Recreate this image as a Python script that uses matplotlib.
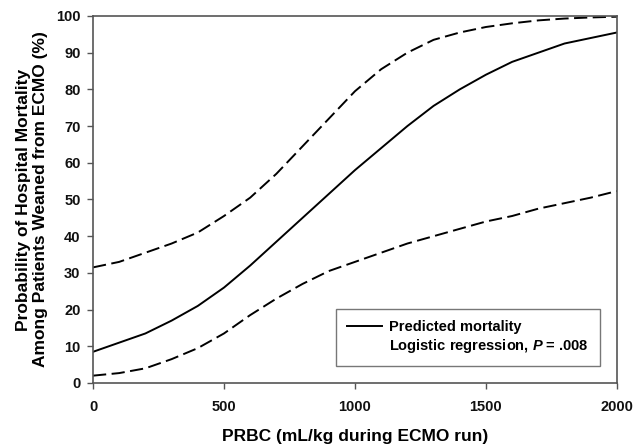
import matplotlib
matplotlib.use("Agg")
import matplotlib.pyplot as plt
from matplotlib.lines import Line2D

plt.rcParams['font.family'] = ['Liberation Sans', 'DejaVu Sans']
plt.rcParams['font.weight'] = 'bold'
plt.rcParams['mathtext.fontset'] = 'custom'
plt.rcParams['mathtext.it'] = 'Liberation Sans:bold:italic'
plt.rcParams['mathtext.rm'] = 'Liberation Sans:bold'

prbc = [0, 100, 200, 300, 400, 500, 600, 700, 800, 900, 1000,
        1100, 1200, 1300, 1400, 1500, 1600, 1700, 1800, 1900, 2000]
predicted = [8.5, 11, 13.5, 17, 21, 26, 32, 38.5, 45, 51.5, 58,
             64, 70, 75.5, 80, 84, 87.5, 90, 92.5, 94, 95.5]
upper_ci = [31.5, 33, 35.5, 38, 41, 45.5, 50.5, 57, 64.5, 72, 79.5,
            85.5, 90, 93.5, 95.5, 97, 98, 98.8, 99.3, 99.6, 99.8]
lower_ci = [2, 2.7, 4, 6.5, 9.5, 13.5, 18.5, 23, 27, 30.5, 33,
            35.5, 38, 40, 42, 44, 45.5, 47.5, 49, 50.5, 52.3]

x_ticks = [0, 500, 1000, 1500, 2000]
y_ticks = list(range(0, 101, 10))

fig = plt.figure(figsize=(6.35, 4.44), dpi=100)
ax = fig.add_axes([0.1465, 0.1374, 0.825, 0.8266])

ax.plot(prbc, predicted, color='black', lw=1.4)
ax.plot(prbc, upper_ci, color='black', lw=1.4, dashes=(6.8, 2.8))
ax.plot(prbc, lower_ci, color='black', lw=1.4, dashes=(6.8, 2.8))

ax.set_xlim(0, 2000)
ax.set_ylim(0, 100)
ax.set_xticks(x_ticks)
ax.set_yticks(y_ticks)
ax.tick_params(direction='out', length=4, width=1, color='#555555',
               labelsize=10.5, pad=5)
ax.tick_params(axis='x', pad=8)
for lab in ax.get_xticklabels() + ax.get_yticklabels():
    lab.set_fontweight('bold')
    lab.set_color('#111111')
for s in ax.spines.values():
    s.set_color('#555555')
    s.set_linewidth(1.2)

ax.set_xlabel('PRBC (mL/kg during ECMO run)', fontsize=12.5,
              fontweight='bold', labelpad=11)
ax.set_ylabel('Probability of Hospital Mortality\nAmong Patients Weaned from ECMO (%)',
              fontsize=12.5, fontweight='bold', labelpad=6, linespacing=1.12)

handles = [Line2D([], [], color='black', lw=1.4),
           Line2D([], [], color='none', lw=0)]
labels = ['Predicted mortality', r'Logistic regression, $P$ = .008']
leg = ax.legend(handles, labels, loc='lower right',
                bbox_to_anchor=(0.9676, 0.046), frameon=True, fancybox=False,
                edgecolor='#555555', fontsize=10.5, handlelength=2.4,
                handletextpad=0.5, labelspacing=0.2, borderpad=0.75,
                borderaxespad=0)
leg.get_frame().set_linewidth(1.0)
for t in leg.get_texts():
    t.set_fontweight('bold')

fig.savefig('out.png', dpi=100)
